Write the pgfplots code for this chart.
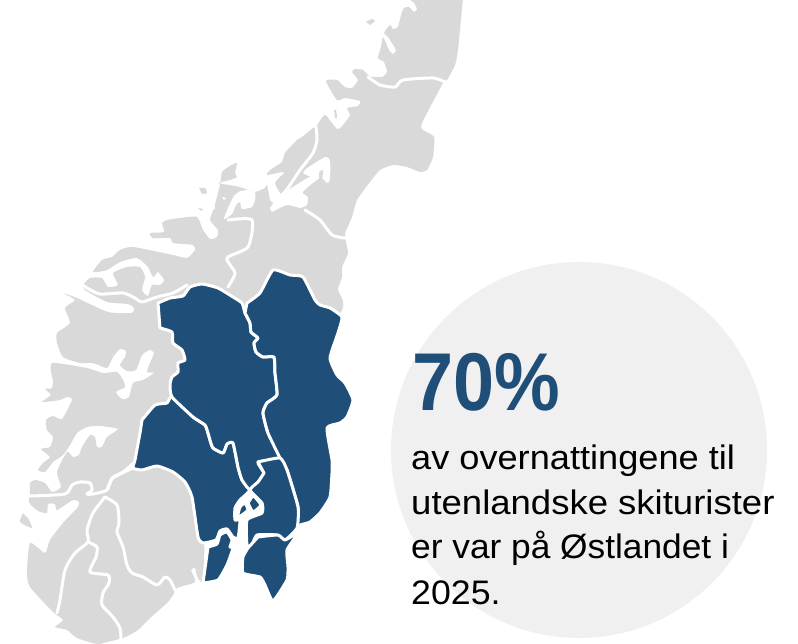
\documentclass[border=0pt]{standalone}
\usepackage{pgfplots}
\pgfplotsset{compat=1.18}
\usepackage{fontspec}
\setmainfont{Liberation Sans}
\definecolor{landgray}{HTML}{D9D9D9}
\definecolor{mapblue}{HTML}{1F4E79}
\definecolor{circgray}{HTML}{F0F0F0}
\pgfplotsset{
  land/.style={fill=landgray,draw=none,smooth,tension=0.35},
  sea/.style={fill=white,draw=none,smooth,tension=0.35},
  border/.style={draw=white,line width=3pt,no markers,smooth,tension=0.4,line cap=round,line join=round},
  reg/.style={fill=mapblue,draw=white,line width=3pt,line join=round,smooth,tension=0.3},
}
\newcommand{\bodyline}[3]{\node[anchor=base west,inner sep=0pt] at (axis cs:411,#1) {\fontsize{34}{40}\selectfont\scalebox{#2}[1]{#3}};}
\begin{document}
\begin{tikzpicture}
\begin{axis}[
  scale only axis,width=798pt,height=644pt,
  xmin=0,xmax=798,ymin=0,ymax=644,y dir=reverse,
  hide axis,clip=true]
\addplot[fill=white,draw=none] coordinates {(0,0)(798,0)(798,644)(0,644)} -- cycle;
\fill[circgray] (axis cs:579,450) circle[radius=188];
% land silhouette
\addplot[land] coordinates {
(463,-2)(458,50)(455,65)(447,80)(443,83)(422,123)(423,130)(434,137)(433,157)(427,170)(420,172)(407,167)(393,165)(380,170)(370,182)(357,200)(352,217)(345,233)(345,238)(348,253)(342,267)(342,277)(338,290)(341,312)
(270,400)(210,500)(204,560)(203,580)
(201,582)(197,576)(195,568)(191,570)(195,582)(177,588)(173,595)(167,603)(150,618)(138,630)(123,638)(107,642)(97,644)(77,638)(67,630)(55,627)(63,620)(53,612)(30,587)(27,573)(30,543)
(45,553)(50,540)(63,523)(78,507)(79,502)(73,500)(57,510)(55,504)(48,504)(47,513)(38,511)(30,504)(29,500)(30,493)(30,483)(35,480)(45,483)(52,492)(61,487)(57,472)(67,452)(73,457)(79,455)(82,447)(90,435)(95,437)(97,447)(102,447)(107,437)(118,429)(100,426)(87,427)(77,433)(70,445)(63,455)(53,462)(45,472)(38,470)(43,463)(50,457)(41,449)(50,447)(53,437)(47,430)(46,420)(53,416)(62,419)(72,400)(67,397)(60,400)(42,402)(51,395)(45,389)(52,388)(53,379)(52,377)(52,363)
(87,368)(103,373)(117,372)(123,380)(125,387)(116,392)(122,399)(129,397)(133,383)(143,380)(154,373)(147,372)(150,363)(154,353)(150,350)(142,355)(136,370)(127,371)(120,365)(125,357)(126,351)(120,349)(113,357)(107,368)(93,363)(80,363)(63,357)(57,343)(57,333)(70,323)(65,308)(75,300)(63,293)
(77,298)(108,312)(132,313)(134,308)(128,304)(107,302)(85,290)(83,285)
(90,278)(102,278)(108,287)(118,285)(113,273)(127,267)(140,267)(145,277)(142,290)(148,296)(152,285)(160,285)(164,280)(158,272)(153,277)(148,267)(137,258)(120,262)(107,270)(93,272)(102,260)(112,257)(120,250)(133,247)(173,255)(187,258)(195,250)(193,245)(173,243)(170,238)(153,238)(150,233)(164,232)(162,223)(167,220)(180,218)(197,217)(203,230)(210,239)(217,237)(218,230)(210,220)(214,208)(220,185)(222,172)(230,166)(237,163)(235,173)(237,177)(230,180)(218,183)(235,186)(243,188)(255,192)(265,188)(267,185)
(270,200)(273,203)(270,208)(272,212)(280,208)(288,205)(300,208)(307,205)(308,197)(303,192)(320,178)(327,183)(330,180)(330,160)(325,157)(307,168)(303,173)(310,177)(307,178)(288,190)(282,195)(275,183)(284,173)(282,172)(267,175)(270,170)(282,162)(285,153)(297,140)(302,137)(313,128)(316,127)(325,115)
(337,129)(343,125)(350,115)(347,108)(358,106)(360,101)(345,98)(337,100)(326,81)(337,80)(345,87)(352,88)(358,80)(352,72)(355,69)(363,70)(369,76)(373,77)(382,77)(387,72)(384,62)(378,58)(381,47)(383,37)(389,50)(393,54)(396,50)(388,37)(384,33)(390,25)(393,29)(398,27)(401,15)(404,8)(409,7)(414,12)(417,9)(414,3)(408,-2)
} -- cycle;
% islands
\addplot[land] coordinates {(23,513)(20,522)(32,528)(28,518)} -- cycle;
\addplot[land] coordinates {(366,22)(372,19)(375,21)(370,25)} -- cycle;
\addplot[land] coordinates {(199,188)(205,188)(207,193)(202,194)} -- cycle;
\addplot[land] coordinates {(198,208)(203,209)(201,211)} -- cycle;
\addplot[land] coordinates {(319,172)(323,170)(322,180)(319,181)} -- cycle;
\addplot[land] coordinates {(334,110)(336,110)(337,118)(335,118)} -- cycle;
% white branch in the lobe
\addplot[sea] coordinates {(248,190)(255,192)(255,200)(252,207)(242,209)(240,202)(236,205)(232,214)(224,219)(228,208)(234,196)(240,191)} -- cycle;
\addplot[sea] coordinates {(211,205)(215,207)(214,210)} -- cycle;
\addplot[sea] coordinates {(222,197)(226,198)(224,200)} -- cycle;
% borders
\addplot[border] coordinates {(30,496)(65,494)(72,485)(80,482)(90,483)(92,490)(87,494)(93,494)(107,490)(112,478)(123,472)(135,462)};
\addplot[border] coordinates {(105,497)(93,513)(87,530)(88,542)(75,553)(65,570)(60,600)(57,613)};
\addplot[border] coordinates {(88,542)(97,547)(96,557)(90,572)(108,575)(109,583)(103,593)(102,605)(113,617)(120,628)(121,640)};
\addplot[border] coordinates {(105,497)(117,505)(119,523)(117,532)(123,547)(127,565)(132,573)(143,577)(157,585)(165,577)(170,580)(175,590)};
\addplot[border] coordinates {(107,490)(113,478)(133,468)};
\addplot[border] coordinates {(83,285)(87,288)(100,294)(123,293)(135,298)(142,302)(157,297)(173,293)(187,285)};
\addplot[border] coordinates {(228,220)(252,220)(248,247)(227,258)(235,273)(228,287)};
\addplot[border] coordinates {(305,210)(320,220)(332,235)(345,238)};
\addplot[border] coordinates {(368,77)(380,85)(395,87)(403,80)(433,78)(445,82)};
\addplot[border] coordinates {(316,127)(317,140)(313,153)(300,170)(288,188)(282,195)};
% blue regions
\addplot[reg] coordinates {(142,420)(155,405)(167,403)(172,397)(193,417)(205,425)(208,433)(210,440)(213,448)(223,453)(227,444)(233,443)(238,467)(242,480)(250,490)(240,500)(235,508)(235,520)(240,520)(238,538)(233,537)(227,529)(220,531)(216,540)(203,543)(198,537)(192,497)(185,482)(173,472)(157,466)(142,470)(133,468)(135,460)(140,433)} -- cycle;
\addplot[reg] coordinates {(158,303)(170,298)(183,296)(190,287)(202,284)(218,288)(233,297)(242,303)(245,313)(250,323)(251,332)(258,338)(254,343)(256,352)(263,357)(274,357)(275,373)(277,395)(267,403)(263,413)(268,433)(280,458)(258,462)(264,473)(258,482)(250,490)(242,480)(238,467)(233,443)(227,444)(223,453)(213,448)(210,440)(208,433)(205,425)(193,417)(172,397)(170,385)(172,377)(178,372)(178,363)(185,360)(182,350)(173,343)(172,332)(160,328)} -- cycle;
\addplot[reg] coordinates {(247,303)(260,293)(273,270)(290,275)(303,277)(315,300)(320,305)(330,308)(342,317)(338,333)(330,358)(337,375)(345,383)(353,400)(347,417)(340,423)(327,428)(332,460)(332,473)(330,497)(320,513)(310,522)(300,525)(297,528)(298,507)(287,470)(280,458)(268,433)(263,413)(267,403)(277,395)(275,373)(274,357)(263,357)(256,352)(254,343)(258,338)(251,332)(250,323)(245,313)} -- cycle;
\addplot[reg] coordinates {(258,462)(280,458)(287,470)(298,507)(297,528)(285,540)(277,535)(257,535)(252,545)(247,545)(247,520)(262,513)(262,503)(250,490)(258,482)(264,473)} -- cycle;
\addplot[reg] coordinates {(258,537)(278,535)(285,540)(298,533)(287,550)(288,567)(287,580)(273,601)(265,585)(260,577)(243,573)(243,557)(248,548)} -- cycle;
\addplot[reg] coordinates {(208,547)(217,544)(220,535)(227,532)(232,540)(230,547)(233,548)(227,565)(218,580)(203,583)} -- cycle;
\addplot[reg] coordinates {(237,518)(240,507)(245,503)(248,510)(242,515)} -- cycle;
\addplot[reg] coordinates {(253,495)(261,505)(253,512)(248,503)} -- cycle;
% text
\node[anchor=base west,inner sep=0pt,text=mapblue] at (axis cs:412,411) {\fontsize{82}{82}\selectfont\bfseries\scalebox{0.90}[1]{70\%}};
\bodyline{469}{1.064}{av overnattingene til}
\bodyline{514}{1.074}{utenlandske skiturister}
\bodyline{558}{1.038}{er var på Østlandet i}
\bodyline{604}{1.05}{2025.}
\end{axis}
\end{tikzpicture}
\end{document}
